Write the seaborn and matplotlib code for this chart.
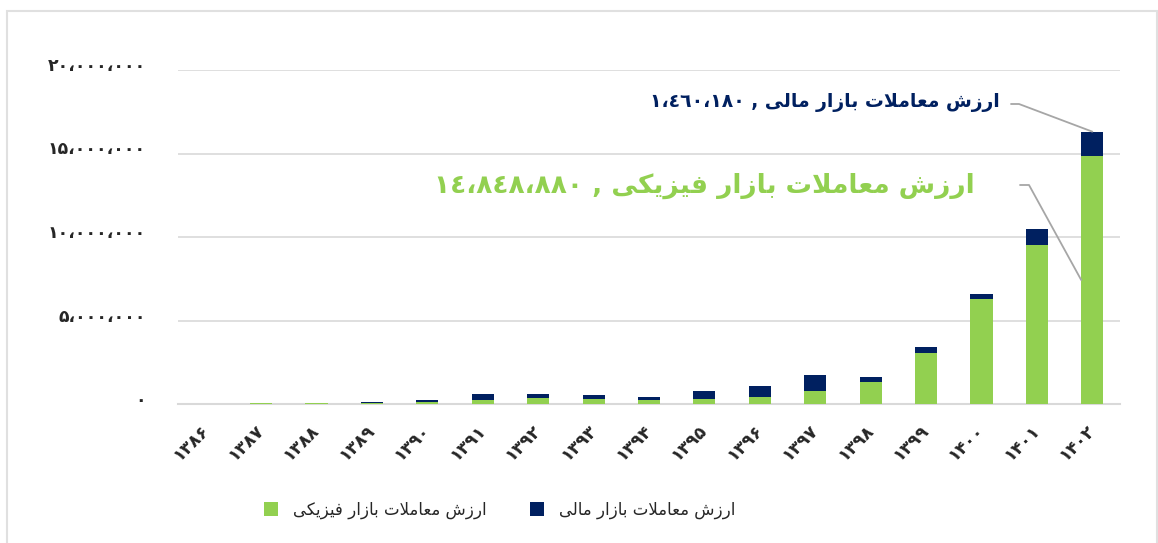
import matplotlib
matplotlib.use("Agg")
import matplotlib.pyplot as plt
import matplotlib.transforms as mtransforms
import seaborn as sns
import numpy as np
import pandas as pd
from matplotlib.patches import Rectangle, Patch
from matplotlib.ticker import FuncFormatter, FixedLocator

# ---------------- data ----------------
years = [1386, 1387, 1388, 1389, 1390, 1391, 1392, 1393, 1394, 1395,
         1396, 1397, 1398, 1399, 1400, 1401, 1402]
physical = [20000, 50000, 50000, 80000, 100000, 240000, 360000, 300000, 220000, 320000,
            440000, 800000, 1300000, 3080000, 6260000, 9530000, 14848880]
financial = [5000, 10000, 10000, 20000, 140000, 380000, 240000, 220000, 200000, 440000,
             660000, 940000, 340000, 360000, 350000, 920000, 1460180]
label_physical = "ارزش معاملات بازار فیزیکی"
label_financial = "ارزش معاملات بازار مالی"
y_ticks = [0, 5000000, 10000000, 15000000, 20000000]

GREEN = "#92D050"
NAVY = "#002060"
GRID = "#d9d9d9"
LEADER = "#a6a6a6"

# ---------------- helpers: Arabic shaping for display ----------------
FORMS = {
    '\u0627': ('\uFE8D', '\uFE8E', None, None),
    '\u0631': ('\uFEAD', '\uFEAE', None, None),
    '\u0632': ('\uFEAF', '\uFEB0', None, None),
    '\u0634': ('\uFEB5', '\uFEB6', '\uFEB7', '\uFEB8'),
    '\u0645': ('\uFEE1', '\uFEE2', '\uFEE3', '\uFEE4'),
    '\u0639': ('\uFEC9', '\uFECA', '\uFECB', '\uFECC'),
    '\u0644': ('\uFEDD', '\uFEDE', '\uFEDF', '\uFEE0'),
    '\u062A': ('\uFE95', '\uFE96', '\uFE97', '\uFE98'),
    '\u0628': ('\uFE8F', '\uFE90', '\uFE91', '\uFE92'),
    '\u06CC': ('\uFBFC', '\uFBFD', '\uFBFE', '\uFBFF'),
    '\u0641': ('\uFED1', '\uFED2', '\uFED3', '\uFED4'),
    '\u06A9': ('\uFB8E', '\uFB8F', '\uFB90', '\uFB91'),
    'LA': ('\uFEFB', '\uFEFC', None, None),
}


def shape(text):
    toks = []
    i = 0
    while i < len(text):
        if text[i] == '\u0644' and i + 1 < len(text) and text[i + 1] == '\u0627':
            toks.append('LA')
            i += 2
        else:
            toks.append(text[i])
            i += 1
    out = []
    for k, t in enumerate(toks):
        if t not in FORMS:
            out.append(t)
            continue
        f = FORMS[t]
        prev = k > 0 and toks[k - 1] in FORMS and FORMS[toks[k - 1]][2] is not None
        nxt = f[2] is not None and k + 1 < len(toks) and toks[k + 1] in FORMS
        if prev and nxt:
            out.append(f[3])
        elif prev:
            out.append(f[1])
        elif nxt:
            out.append(f[2])
        else:
            out.append(f[0])
    return ''.join(out)[::-1]


PERSIAN = str.maketrans('0123456789', '۰۱۲۳۴۵۶۷۸۹')
ARABIC = str.maketrans('0123456789', '٠١٢٣٤٥٦٧٨٩')


def num_fa(v, table=PERSIAN):
    return f"{int(round(v)):,}".replace(',', '\u060C').translate(table)


# ---------------- figure ----------------
sns.set_style("white")
plt.rcParams['font.family'] = ['DejaVu Sans']

W, H = 1158, 543
fig = plt.figure(figsize=(W / 100, H / 100), dpi=100)
ax = fig.add_axes([178 / W, 1 - 404 / H, (1120 - 178) / W, (404 - 70) / H])

df = pd.DataFrame({
    "year": [str(y) for y in years],
    "physical": physical,
    "financial": financial,
})
df["total"] = df["physical"] + df["financial"]

sns.barplot(data=df, x="year", y="total", color=NAVY, width=0.4, ax=ax,
            saturation=1, edgecolor="none", zorder=3)
sns.barplot(data=df, x="year", y="physical", color=GREEN, width=0.4, ax=ax,
            saturation=1, edgecolor="none", zorder=3)

ax.set_xlim(-0.5, len(years) - 0.5)
ax.set_ylim(0, 20000000)
ax.yaxis.set_major_locator(FixedLocator(y_ticks))
ax.yaxis.set_major_formatter(FuncFormatter(lambda v, p: num_fa(v)))
ax.grid(axis='y', color=GRID, lw=1.2, zorder=0)
ax.set_xlabel("")
ax.set_ylabel("")

for s in ["top", "right", "left"]:
    ax.spines[s].set_visible(False)
ax.spines["bottom"].set_color(GRID)
ax.spines["bottom"].set_linewidth(1.5)

ax.set_xticks(range(len(years)))
ax.set_xticklabels([str(y).translate(PERSIAN) for y in years], rotation=45,
                   ha='right', va='center', rotation_mode='anchor',
                   fontsize=12.5, fontweight='bold')
ax.tick_params(axis='x', length=0, pad=17)
ax.set_xticks(np.arange(-0.5, len(years), 1), minor=True)
ax.tick_params(axis='x', which='minor', length=6, color=GRID, width=1.5)
ax.tick_params(axis='y', length=0, pad=23, labelsize=12.5)
up = mtransforms.ScaledTranslation(0, 6 / 100, fig.dpi_scale_trans)
for t in ax.get_yticklabels():
    t.set_fontweight('bold')
    t.set_transform(t.get_transform() + up)

# annotations
last = len(years) - 1
fig.text(1000 / W, 1 - 103 / H, num_fa(financial[last], ARABIC) + " , " + shape(label_financial),
         ha='right', va='center', fontsize=13.5, fontweight='bold', color=NAVY)
ax.annotate("", xy=(last, physical[last] + financial[last]), xycoords='data',
            xytext=(1011 / W, 1 - 104 / H), textcoords='figure fraction',
            arrowprops=dict(arrowstyle='-', color=LEADER, lw=1.3,
                            connectionstyle='arc,angleA=0,armA=8,angleB=0,armB=0,rad=0',
                            shrinkA=0, shrinkB=0))
fig.text(975 / W, 1 - 186 / H, num_fa(physical[last], ARABIC) + " , " + shape(label_physical),
         ha='right', va='center', fontsize=19, fontweight='bold', color=GREEN)
ax.annotate("", xy=(last - 0.2, physical[last] / 2), xycoords='data',
            xytext=(1020 / W, 1 - 185 / H), textcoords='figure fraction',
            arrowprops=dict(arrowstyle='-', color=LEADER, lw=1.3,
                            connectionstyle='arc,angleA=0,armA=9,angleB=0,armB=0,rad=0',
                            shrinkA=0, shrinkB=0))

# legend
handles = [Patch(facecolor=GREEN, edgecolor='none'), Patch(facecolor=NAVY, edgecolor='none')]
fig.legend(handles, [shape(label_physical), shape(label_financial)], loc='center',
           bbox_to_anchor=(500 / W, 1 - 510 / H), ncol=2, frameon=False, fontsize=12,
           handlelength=0.85, handleheight=0.85, handletextpad=0.9, columnspacing=2.6)

# outer border
fig.patches.append(Rectangle((7 / W, -0.02), (1157 - 7) / W, (H - 11) / H + 0.02,
                             transform=fig.transFigure, fill=False, edgecolor='#e0e0e0', lw=1.5))

fig.savefig("out.png", dpi=100)
